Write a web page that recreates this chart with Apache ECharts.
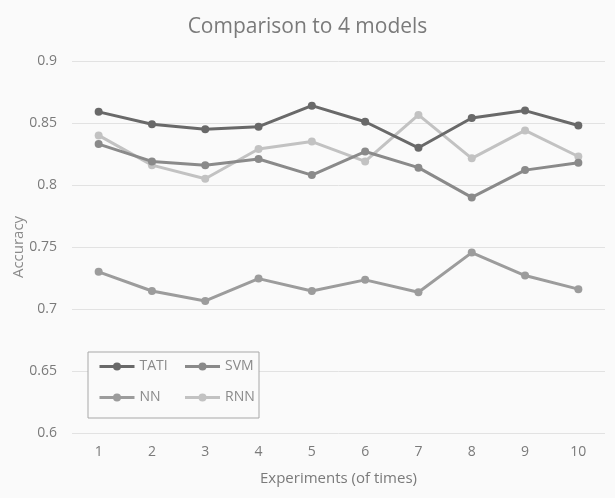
<!DOCTYPE html>
<html>
<head>
<meta charset="utf-8">
<script src="https://cdn.jsdelivr.net/npm/echarts@6/dist/echarts.min.js"></script>
<style>
html,body{margin:0;padding:0;background:#fafafa;}
#c{width:615px;height:498px;}
</style>
</head>
<body>
<div id="c"></div>
<script>
const categories = ['1','2','3','4','5','6','7','8','9','10'];
const seriesNames = ['TATI','SVM','NN','RNN'];
const tati = [0.859, 0.849, 0.845, 0.847, 0.864, 0.851, 0.830, 0.854, 0.860, 0.848];
const svm  = [0.833, 0.819, 0.816, 0.821, 0.808, 0.827, 0.814, 0.790, 0.812, 0.818];
const nn   = [0.730, 0.7145, 0.7065, 0.7245, 0.7145, 0.7235, 0.7135, 0.7455, 0.727, 0.716];
const rnn  = [0.840, 0.816, 0.805, 0.829, 0.835, 0.819, 0.8565, 0.8215, 0.844, 0.823];
const colors = ['#696969','#8a8a8a','#9c9c9c','#c2c2c2'];
const yTicks = {min:0.6, max:0.9, interval:0.05};

const font = 'Open Sans';
const data = [tati, svm, nn, rnn];
const chart = echarts.init(document.getElementById('c'), null, {renderer:'canvas'});
chart.setOption({
  backgroundColor:'#fafafa',
  animation:false,
  title:{text:'Comparison to 4 models', left:'center', top:12,
    textStyle:{color:'#7a7a7a', fontSize:21, fontWeight:'normal', fontFamily:font}},
  grid:{left:72, right:10, top:61, bottom:65, containLabel:false, outerBoundsMode:'none'},
  legend:{
    data:seriesNames, left:88, top:352, width:170, orient:'horizontal',
    padding:[5,2,11,10], itemGap:12, itemWidth:35, itemHeight:10,
    borderColor:'#a8a8a8', borderWidth:1, backgroundColor:'#fafafa',
    lineStyle:{width:3},
    textStyle:{color:'#8a8a8a', fontSize:14, fontFamily:font, width:32, height:19, lineHeight:19}
  },
  xAxis:{type:'category', data:categories, boundaryGap:true,
    name:'Experiments (of times)', nameLocation:'middle', nameGap:38,
    nameTextStyle:{color:'#7a7a7a', fontSize:15, fontFamily:font},
    axisLine:{show:false}, axisTick:{show:false},
    axisLabel:{color:'#7a7a7a', fontSize:14, fontFamily:font, margin:12}},
  yAxis:{type:'value', min:yTicks.min, max:yTicks.max, interval:yTicks.interval,
    name:'Accuracy', nameLocation:'middle', nameGap:46, nameMoveOverlap:false,
    nameTextStyle:{color:'#8a8a8a', fontSize:15, fontFamily:font},
    axisLine:{show:false}, axisTick:{show:false},
    axisLabel:{color:'#7a7a7a', fontSize:14, fontFamily:font, margin:15,
      formatter:v=>String(+v.toFixed(2))},
    splitLine:{lineStyle:{color:'#e2e2e2', width:1}}},
  series: seriesNames.map((n,i)=>({
    name:n, type:'line', data:data[i], symbol:'circle', symbolSize:8,
    z: 10 - i,
    lineStyle:{color:colors[i], width:3},
    itemStyle:{color:colors[i]}
  }))
});
</script>
</body>
</html>
